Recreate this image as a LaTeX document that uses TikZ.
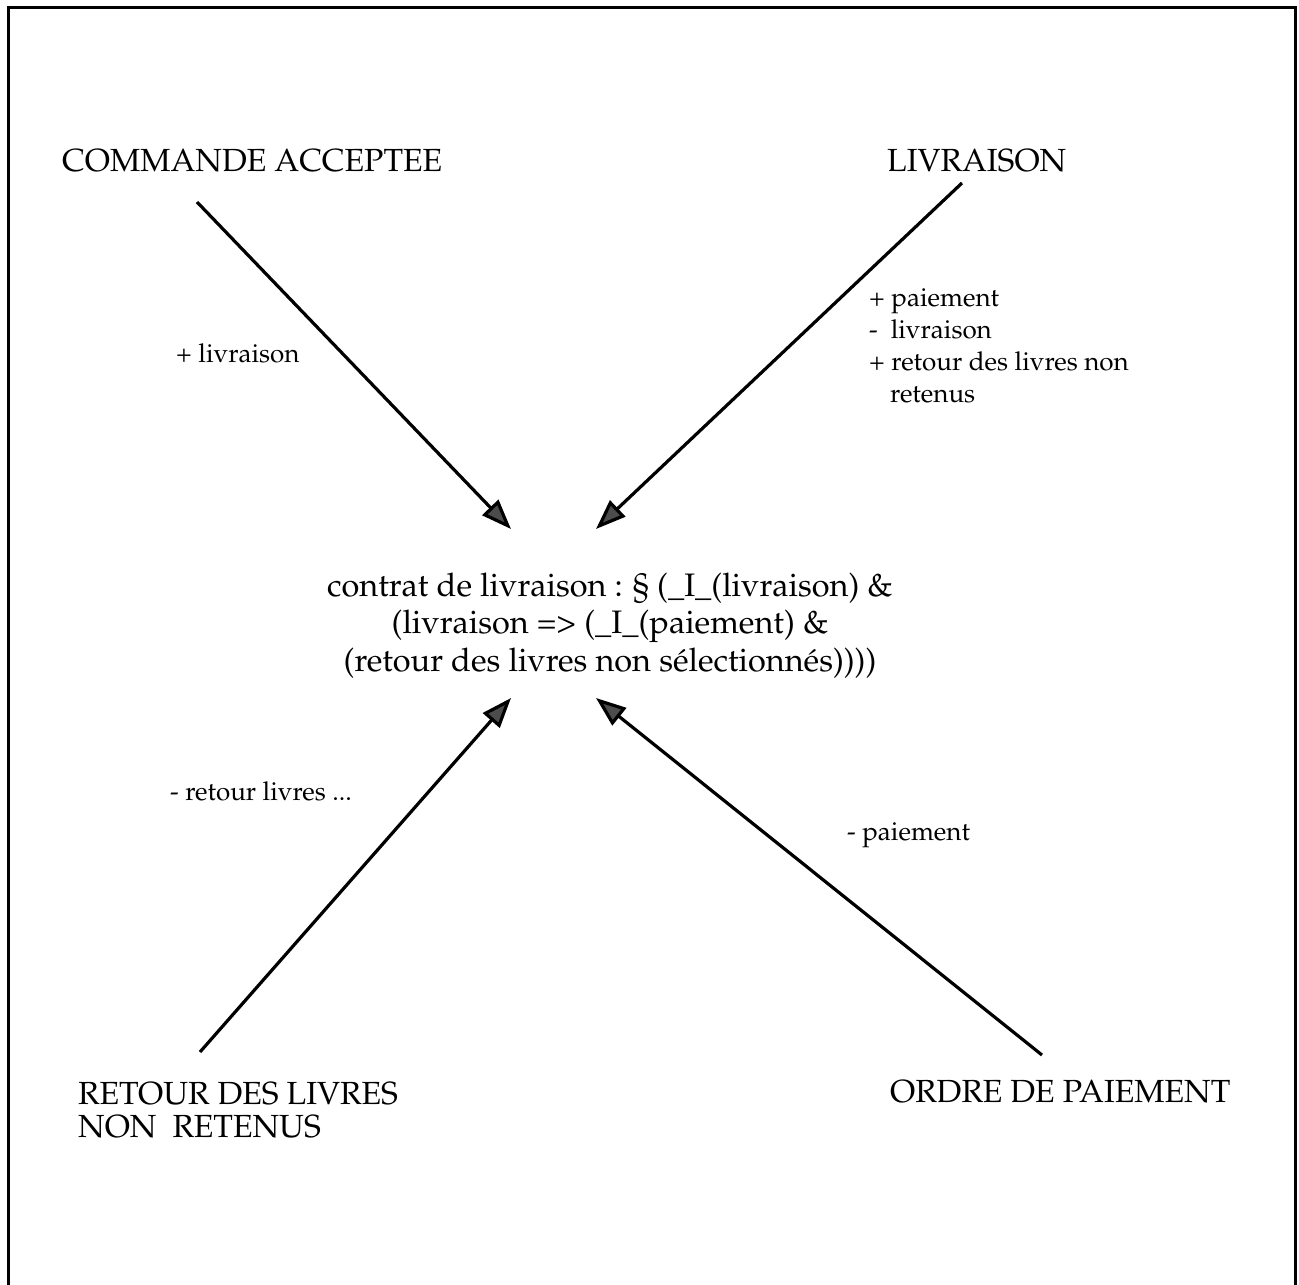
\documentclass[tikz,border=0pt]{standalone}
\IfFileExists{mathpazo.sty}{\usepackage[T1]{fontenc}\usepackage{mathpazo}}{\usepackage{fontspec}\setmainfont{Liberation Serif}}
\usetikzlibrary{arrows.meta}
\begin{document}
\begin{tikzpicture}[x=1pt,y=-1pt,
  frame/.style={line width=3pt},
  arr/.style={line width=3.2pt,-{Triangle[length=30pt,width=22pt,fill=black!70]}},
  big/.style={inner sep=0pt,font=\fontsize{32}{33}\selectfont,anchor=base west,align=left},
  lab/.style={inner sep=0pt,font=\fontsize{26}{32}\selectfont,anchor=base west,align=left},
  ctr/.style={inner sep=0pt,font=\fontsize{32.5}{37.5}\selectfont,anchor=base,align=center}]
\useasboundingbox (0,0) rectangle (1299,1285);
\draw[frame] (8,1290) -- (8,7) -- (1295,7) -- (1295,1290);
% main nodes (a multi-line node's base is its last line)
\node[big] (cmd) at (62,171) {COMMANDE ACCEPTEE};
\node[big] (liv) at (887,171) {LIVRAISON};
\node[big] (ret) at (78,1137) {RETOUR DES LIVRES\\NON\ \ RETENUS};
\node[big] (ord) at (890,1102) {ORDRE DE PAIEMENT};
\node[ctr] (contrat) at (610,671) {contrat de livraison : \S\ (\_I\_(livraison) \&\\(livraison => (\_I\_(paiement) \&\\(retour des livres non s\'electionn\'es))))};
% labels
\node[lab] (l1) at (176,362) {+ livraison};
\node[lab] (l2) at (869,402) {+ paiement\\-\ \ livraison\\+ retour des livres non\\\hspace*{21pt}retenus};
\node[lab] (l3) at (170,800) {- retour livres ...};
\node[lab] (l4) at (847,840) {- paiement};
% arrow ends
\coordinate (t1) at (197,202);
\coordinate (h1) at (511,529);
\coordinate (t2) at (962,183);
\coordinate (h2) at (596,529);
\coordinate (t3) at (200,1052);
\coordinate (h3) at (511,698);
\coordinate (t4) at (1042,1055);
\coordinate (h4) at (596,698);
\draw[arr] (t1) -- (h1);
\draw[arr] (t2) -- (h2);
\draw[arr] (t3) -- (h3);
\draw[arr] (t4) -- (h4);
\end{tikzpicture}
\end{document}
